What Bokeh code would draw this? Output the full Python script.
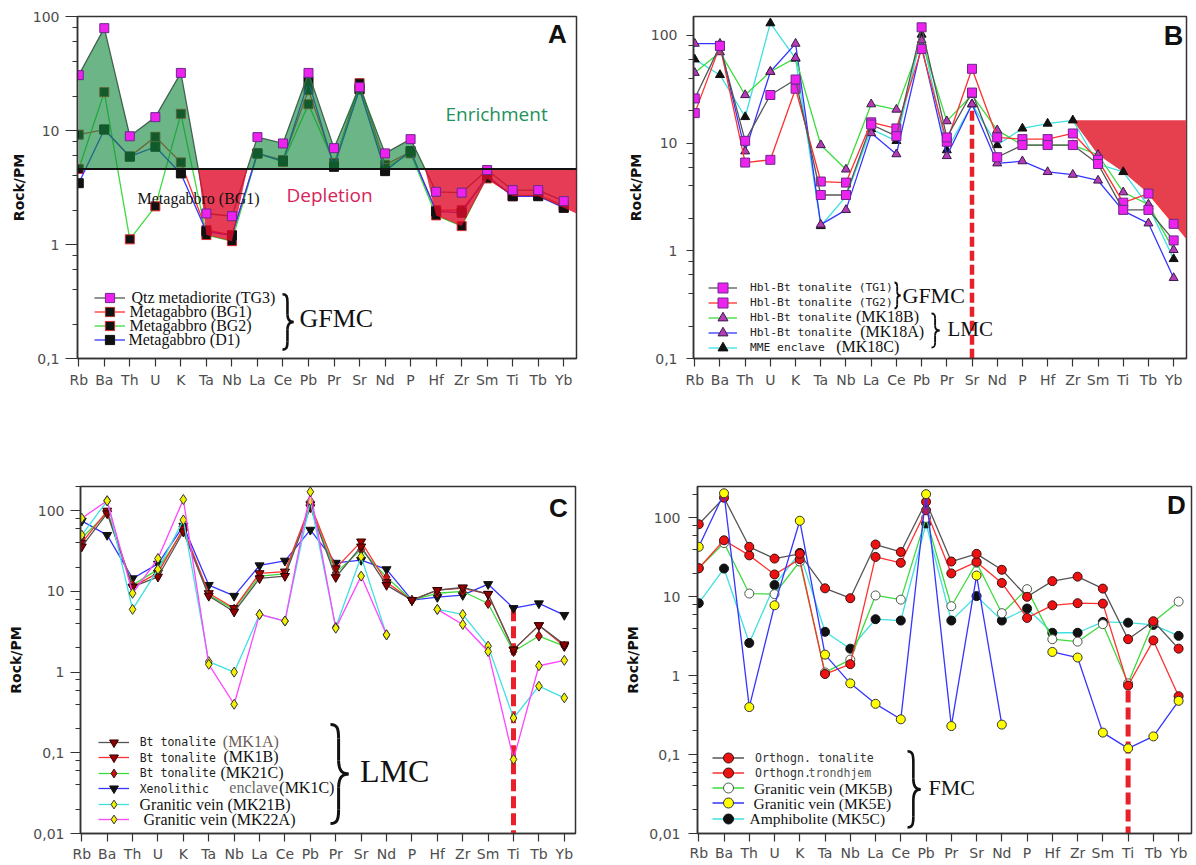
import numpy as np
from bokeh.plotting import figure
from bokeh.models import (Range1d, FixedTicker, CustomJSTickFormatter, Label,
                          Legend, LegendItem, Span)
from bokeh.layouts import column, row
from bokeh.embed import file_html
from bokeh.resources import INLINE

ELEMENTS = ["Rb", "Ba", "Th", "U", "K", "Ta", "Nb", "La", "Ce", "Pb",
            "Pr", "Sr", "Nd", "P", "Hf", "Zr", "Sm", "Ti", "Tb", "Yb"]
NA = float("nan")

# ---------------- Panel A ----------------
A_TG3 = [30.6, 79, 8.9, 13.1, 32, 1.87, 1.77, 8.75, 7.7, 32, 7.0, 24, 6.3, 8.4, 2.9, 2.85, 4.5, 3.0, 3.0, 2.4]
A_BG1 = [9.2, 10.2, 5.9, 8.8, 5.25, 1.34, 1.21, 6.3, 5.5, 22.6, 5.0, 26, 5.0, 6.5, 2.0, 2.0, 3.8, 2.7, 2.7, 2.2]
A_BG2 = [4.6, 21.7, 1.11, 2.16, 14, 1.21, 1.07, 6.3, 5.3, 17, 5.2, 23, 4.7, 6.3, 1.8, 1.45, 4.0, 2.65, 2.7, 2.1]
A_D1 = [3.45, 10.2, 5.9, 7.2, 4.2, 1.3, 1.2, 6.3, 5.4, 27, 4.8, 23, 4.4, 6.6, 1.95, 1.9, 4.0, 2.65, 2.65, 2.1]
A_LEVEL = 4.6

# ---------------- Panel B ----------------
B_TG1 = [26, 80, 10.5, 28, 39, 3.3, 3.3, 14.9, 11.6, 119, 11.3, 29.5, 7.4, 9.6, 9.6, 9.6, 6.4, 2.4, 2.4, 1.25]
B_TG2 = [19, 80, 6.6, 7.0, 32, 4.4, 4.3, 15.6, 13.7, 75, 10.3, 49, 11.3, 10.9, 10.9, 12.3, 7.0, 2.8, 3.4, 1.78]
B_MK18B = [45, 70, 28, 46, 62, 9.6, 5.7, 23, 20.5, 90, 16, 28, 13.2, 9.6, 9.6, 9.6, 7.8, 3.5, 2.7, 1.02]
B_MK18A = [84, 84, 8.4, 46, 84, 1.75, 2.4, 12.4, 7.9, 80, 7.6, 23, 6.5, 6.8, 5.4, 5.1, 4.5, 2.35, 1.8, 0.56]
B_MK18C = [60, 43, 17.5, 130, 61, 1.7, 3.2, 13.5, 10.5, 102, 8.6, 23, 9.6, 13.7, 15.2, 16.3, 6.4, 5.4, 2.6, 0.84]
B_FILL_FROM = "Zr"
B_MARK_AT, B_MARK_TOP = "Sr", 20

# ---------------- Panel C ----------------
C_MK1A = [36, 93, 11.4, 15.2, 55, 8.8, 5.6, 14.5, 15.5, 110, 15, 36, 12, 7.8, 10.4, 11.2, 9.3, 1.9, 3.8, 2.2]
C_MK1B = [40, 100, 11.4, 17, 60, 9.5, 6.2, 16.8, 17.6, 120, 19.3, 41.5, 13, 7.8, 10.4, 11, 9.3, 1.9, 3.8, 2.1]
C_MK21C = [46, 93, 12, 18.8, 57, 9, 6, 15.5, 16.5, 115, 17, 33, 15, 7.8, 9.5, 10, 7.1, 1.8, 2.8, 2.1]
C_MK1C = [75, 50, 14.5, 22, 65, 12, 8.8, 21, 24, 58, 22.6, 24.5, 18.8, 7.8, 8.5, 9.0, 12.3, 6.2, 7.1, 5.1]
C_MK21B = [50, 133, 6.0, 18.8, 77, 1.35, 1.0, 5.2, 4.3, 133, 3.6, 27, 2.9, NA, 6.0, 5.2, 2.1, 0.27, 0.67, 0.48]
C_MK22A = [81, 133, 9.5, 25.6, 138, 1.25, 0.4, 5.2, 4.3, 172, 3.5, 15.5, 2.9, NA, 6.0, 3.9, 1.8, 0.083, 1.2, 1.4]
C_MARK_AT, C_MARK_TOP = "Ti", 6.0

# ---------------- Panel D ----------------
D_TON = [83, 180, 43, 30.5, 35, 12.8, 9.6, 46, 37, 160, 28, 35, 22, 10, 15.8, 18, 12.7, 2.9, 4.9, 2.2]
D_TRO = [23, 52, 33.5, 19.2, 30, 1.05, 1.4, 32, 27, 125, 19.8, 27.7, 15, 5.4, 7.8, 8.3, 8.2, 0.75, 2.8, 0.55]
D_MK5B = [23, 48, 11, 10.8, 28, 1.1, 1.6, 10.4, 9.2, 100, 7.6, 27, 6.2, 12.5, 2.9, 2.7, 4.5, 0.8, 4.8, 8.7]
D_MK5E = [43, 205, 0.4, 7.8, 92, 1.85, 0.8, 0.44, 0.28, 200, 0.23, 18.6, 0.24, NA, 2.0, 1.7, 0.19, 0.12, 0.17, 0.48]
D_MK5C = [8.3, 22.8, 2.6, 14.1, 36, 3.6, 2.2, 5.2, 5.0, 85, 5.0, 10.2, 5.0, 7.1, 3.5, 3.5, 4.8, 4.7, 4.4, 3.2]
D_MARK_AT, D_MARK_TOP = "Ti", 0.65

SERIF = "Liberation Serif"
MONO = "DejaVu Sans Mono"
SANS = "DejaVu Sans"
XI = np.arange(len(ELEMENTS))
N = len(ELEMENTS)

GRAY, RED, GREEN, BLUE, CYAN, MAGENTA = "#555555", "#ff3030", "#3ddc3d", "#3535ff", "#3ee0e0", "#ff45ff"

# panel geometry in page pixels (frame edges), figure sizes and ranges
GEO = {
    "A": dict(ox=0, oy=0, width=600, height=400, left=77, right=576, top=16, bottom=362,
              xr=(-0.05, 19.5), yr=(0.1, 100), exps=(-1, 2), tick=12, lstd=6, tstd=3, xstd=5),
    "B": dict(ox=600, oy=0, width=596, height=400, left=693, right=1186, top=16, bottom=358,
              xr=(-0.05, 19.51), yr=(0.1, 150), exps=(-1, 2), tick=7, lstd=9, tstd=4, xstd=5),
    "C": dict(ox=0, oy=400, width=600, height=464, left=80, right=575, top=486, bottom=833,
              xr=(-0.05, 19.44), yr=(0.01, 200), exps=(-2, 2), tick=10, lstd=6, tstd=6, xstd=4),
    "D": dict(ox=600, oy=400, width=596, height=464, left=697, right=1191, top=486, bottom=836,
              xr=(-0.05, 19.51), yr=(0.01, 250), exps=(-2, 2), tick=9, lstd=8, tstd=5, xstd=3),
}


def make_panel(g):
    bl = g["left"] - g["ox"]
    br = g["ox"] + g["width"] - g["right"]
    bt = g["top"] - g["oy"]
    bb = g["oy"] + g["height"] - g["bottom"]
    p = figure(width=g["width"], height=g["height"], x_range=Range1d(*g["xr"]),
               y_range=Range1d(*g["yr"]), y_axis_type="log", output_backend="svg",
               toolbar_location=None, min_border_left=bl, min_border_right=br,
               min_border_top=bt, min_border_bottom=bb)
    p.xgrid.grid_line_color = None
    p.ygrid.grid_line_color = None
    p.outline_line_color = "#333333"
    p.outline_line_width = 1.5
    lo, hi = g["exps"]
    major = [10.0 ** e for e in range(lo, hi + 1)]
    minor = [m * 10.0 ** e for e in range(lo, hi + 1) for m in (2, 4, 6, 8)]
    ya = p.yaxis[0]
    ya.ticker = FixedTicker(ticks=major, minor_ticks=minor)
    ya.formatter = CustomJSTickFormatter(code="return String(tick).replace('.', ',');")
    ya.axis_label = "Rock/PM"
    ya.axis_label_text_font = SANS
    ya.axis_label_text_font_style = "bold"
    ya.axis_label_text_font_size = "14px"
    ya.axis_label_text_color = "#111111"
    ya.axis_label_standoff = g["tstd"]
    ya.major_tick_out = g["tick"]
    ya.major_tick_in = 0
    ya.minor_tick_out = 5
    ya.minor_tick_in = 0
    ya.minor_tick_line_color = "#333333"
    ya.major_label_standoff = g["lstd"]
    xa = p.xaxis[0]
    xa.ticker = FixedTicker(ticks=list(range(N)))
    xa.formatter = CustomJSTickFormatter(
        args=dict(names=ELEMENTS),
        code="const i = Math.round(tick); return (i >= 0 && i < names.length) ? names[i] : '';")
    xa.major_tick_out = 8
    xa.major_tick_in = 0
    xa.minor_tick_line_color = None
    xa.major_label_standoff = g["xstd"]
    for ax in (xa, ya):
        ax.axis_line_color = "#333333"
        ax.axis_line_width = 1.5
        ax.major_tick_line_color = "#333333"
        ax.major_tick_line_width = 1.2
        ax.major_label_text_font = SANS
        ax.major_label_text_font_size = "14px"
        ax.major_label_text_color = "#4d4d4d"
    return p


def markers(p, y, marker, fill, edge, size):
    return p.scatter(XI, y, marker=marker, size=size, fill_color=fill,
                     line_color=edge, line_width=1)


def text(p, g, X, Y, s, size, font=SERIF, color="#111111", align="left",
         style="normal", baseline="middle"):
    p.add_layout(Label(x=X - g["left"], y=g["bottom"] - Y,
                       x_units="screen", y_units="screen", text=s,
                       text_font=font, text_font_size=f"{size}px",
                       text_color=color, text_align=align,
                       text_baseline=baseline, text_font_style=style))


def px2data(g, X, Y):
    x0, x1 = g["xr"]
    l0, l1 = np.log10(g["yr"][0]), np.log10(g["yr"][1])
    x = x0 + (X - g["left"]) / (g["right"] - g["left"]) * (x1 - x0)
    ly = l0 + (g["bottom"] - Y) / (g["bottom"] - g["top"]) * (l1 - l0)
    return x, 10 ** ly


def brace(p, g, Xl, Xr, Yt, Yb, lw=2.0):
    """Curly bracket '}' drawn with bezier curves, placed by page pixels."""
    w = Xr - Xl
    x0, x1, x2 = Xl, Xl + 0.45 * w, Xr
    h = Yb - Yt
    c = 0.5 * (Yt + Yb)
    r = min(0.14 * h, 1.3 * w)
    segs = [
        ((x0, Yt), (x0 + 0.8 * (x1 - x0), Yt), (x1, Yt + 0.25 * r), (x1, Yt + r)),
        ((x1, Yt + r), (x1, Yt + r), (x1, c - r), (x1, c - r)),
        ((x1, c - r), (x1, c - 0.3 * r), (x1 + 0.3 * (x2 - x1), c), (x2, c)),
        ((x2, c), (x1 + 0.3 * (x2 - x1), c), (x1, c + 0.3 * r), (x1, c + r)),
        ((x1, c + r), (x1, c + r), (x1, Yb - r), (x1, Yb - r)),
        ((x1, Yb - r), (x1, Yb - 0.25 * r), (x0 + 0.8 * (x1 - x0), Yb), (x0, Yb)),
    ]
    cols = {k: [] for k in ("x0", "y0", "cx0", "cy0", "cx1", "cy1", "x1", "y1")}
    for a, b, cc, d in segs:
        for key, pt in (("0", a), ("c0", b), ("c1", cc), ("1", d)):
            xx, yy = px2data(g, *pt)
            if key == "0":
                cols["x0"].append(xx); cols["y0"].append(yy)
            elif key == "1":
                cols["x1"].append(xx); cols["y1"].append(yy)
            else:
                cols["cx" + key[1]].append(xx); cols["cy" + key[1]].append(yy)
    p.bezier(line_color="#111111", line_width=lw, **cols)


def legend_row(p, g, rends, x_left, y_center, gw, gh):
    gw, gh = int(round(gw)), int(round(gh))
    lg = Legend(items=[LegendItem(label=" ", renderers=list(rends))],
                location=(float(x_left - g["left"]),
                          float(g["bottom"] - y_center - gh / 2)),
                glyph_width=gw, glyph_height=gh, label_width=0, label_height=gh,
                label_standoff=0, label_text_font_size="1px", padding=0, margin=0,
                spacing=0, border_line_alpha=0, background_fill_alpha=0)
    p.add_layout(lg)


# ======================= Panel A =======================
gA = GEO["A"]
pA = make_panel(gA)
A_XMAX = gA["xr"][1]

rA = []
for vals, lc, ec in ((A_BG1, RED, "#b03020"), (A_BG2, GREEN, "#e02828"), (A_D1, BLUE, "#111111")):
    y = np.array(vals, dtype=float)
    l = pA.line(XI, y, line_color=lc, line_width=1.3)
    s = markers(pA, y, "square", "#111111", ec, 9)
    rA.append((l, s))
yTG3 = np.array(A_TG3, dtype=float)
lTG3 = pA.line(XI, yTG3, line_color=GRAY, line_width=1.3)

# enrichment / depletion areas built from the envelopes of the four samples
allA = np.array([A_TG3, A_BG1, A_BG2, A_D1], dtype=float)
lmx = np.log10(np.nanmax(allA, axis=0))
lmn = np.log10(np.nanmin(allA, axis=0))
lL = np.log10(A_LEVEL)
xs, gy, ry = [], [], []
for i in range(N):
    above = lmx[i] > lL
    xs.append(float(i))
    gy.append(max(lmx[i], lL))
    ry.append(lL if above else lmn[i])
    if i < N - 1 and (lmx[i] - lL) * (lmx[i + 1] - lL) < 0:
        t = (lL - lmx[i]) / (lmx[i + 1] - lmx[i])
        xs.append(i + t)
        gy.append(lL)
        ry.append(lL)
if lmx[-1] < lL:
    slope = lmn[-1] - lmn[-2]
    xs.append(A_XMAX)
    gy.append(lL)
    ry.append(lmn[-1] + slope * (A_XMAX - (N - 1)))
xs = np.array(xs)
base = np.full(len(xs), A_LEVEL)
pA.varea(x=xs, y1=base, y2=10 ** np.array(gy), fill_color="#10883d", fill_alpha=0.62)
pA.varea(x=xs, y1=base, y2=10 ** np.array(ry), fill_color="#e00b2a", fill_alpha=0.8)
sTG3 = markers(pA, yTG3, "square", "#ee22ee", "#6a2a8a", 9)
pA.add_layout(Span(location=A_LEVEL, dimension="width", line_color="#111111", line_width=2))

text(pA, gA, 557, 37.5, "A", 26, font="Liberation Sans", align="center", style="bold")
text(pA, gA, 445, 117, "Enrichment", 19, font="Open Sans", color="#23915a")
text(pA, gA, 286, 198, "Depletion", 19, font="Open Sans", color="#d6245a")
text(pA, gA, 137, 202, "Metagabbro (BG1)", 16)
A_ROWS = [301, 315, 329, 343]
A_LAB = ["Qtz metadiorite (TG3)", "Metagabbro (BG1)", "Metagabbro (BG2)", "Metagabbro (D1)"]
A_LX = [131, 129, 129, 128]
A_R = [(lTG3, sTG3)] + rA
for k in range(4):
    legend_row(pA, gA, A_R[k], 94, A_ROWS[k], 31, 23)
    text(pA, gA, A_LX[k], A_ROWS[k], A_LAB[k], 16)
brace(pA, gA, 282, 293, 297, 353, 2.6)
text(pA, gA, 299, 322, "GFMC", 26)

# ======================= Panel B =======================
gB = GEO["B"]
pB = make_panel(gB)
B_XMAX = gB["xr"][1]

allB = np.array([B_TG1, B_TG2, B_MK18B, B_MK18A, B_MK18C], dtype=float)
mxB = np.log10(np.nanmax(allB, axis=0))
i0 = ELEMENTS.index(B_FILL_FROM)
slopeB = mxB[-1] - mxB[-2]
px = [i0, B_XMAX, B_XMAX] + list(range(N - 1, i0, -1))
py = [mxB[i0], mxB[i0], mxB[-1] + slopeB * (B_XMAX - (N - 1))] + [mxB[j] for j in range(N - 1, i0, -1)]
pB.patch(np.array(px, dtype=float), 10 ** np.array(py), fill_color="#e6404f", line_color=None)
jB = ELEMENTS.index(B_MARK_AT)
pB.segment(x0=[jB], y0=[B_MARK_TOP], x1=[jB], y1=[gB["yr"][0]], line_color="#e8202a",
           line_width=4.5, line_dash="10 4")

rB = {}
for key, vals, lc, mk, fc, ec in (
        ("MK18C", B_MK18C, CYAN, "triangle", "#111111", "#111111"),
        ("MK18A", B_MK18A, BLUE, "triangle", "#b43cb4", "#3a1a4a"),
        ("MK18B", B_MK18B, GREEN, "triangle", "#b43cb4", "#3a1a4a"),
        ("TG2", B_TG2, RED, "square", "#ee22ee", "#6a2a8a"),
        ("TG1", B_TG1, GRAY, "square", "#ee22ee", "#6a2a8a")):
    y = np.array(vals, dtype=float)
    l = pB.line(XI, y, line_color=lc, line_width=1.3)
    s = markers(pB, y, mk, fc, ec, 9)
    rB[key] = (l, s)

text(pB, gB, 1173, 35, "B", 27, font="Liberation Sans", align="center", style="bold")
B_ROWS = [287, 302, 317, 332, 347]
B_KEYS = ["TG1", "TG2", "MK18B", "MK18A", "MK18C"]
B_MONO = ["Hbl-Bt tonalite (TG1)", "Hbl-Bt tonalite (TG2)", "Hbl-Bt tonalite",
          "Hbl-Bt tonalite", "MME enclave"]
B_SER = [None, None, ("(MK18B)", 855.5), ("(MK18A)", 859.7), ("(MK18C)", 835.7)]
for k in range(5):
    legend_row(pB, gB, rB[B_KEYS[k]], 708, B_ROWS[k], 29, 25)
    text(pB, gB, 749.4, B_ROWS[k], B_MONO[k], 11.3, font=MONO, color="#222222")
    if B_SER[k]:
        text(pB, gB, B_SER[k][1], B_ROWS[k] - 1, B_SER[k][0], 16)
brace(pB, gB, 894, 900, 282, 308, 1.8)
text(pB, gB, 902, 295, "GFMC", 22)
brace(pB, gB, 931, 939, 313, 347, 1.9)
text(pB, gB, 947, 328, "LMC", 21)

# ======================= Panel C =======================
gC = GEO["C"]
pC = make_panel(gC)
jC = ELEMENTS.index(C_MARK_AT)
pC.segment(x0=[jC], y0=[C_MARK_TOP], x1=[jC], y1=[gC["yr"][0]], line_color="#e8202a",
           line_width=5, line_dash="12 5")
rC = {}
for key, vals, lc, mk, fc, ec, sz in (
        ("MK1C", C_MK1C, BLUE, "inverted_triangle", "#111111", "#111111", 9),
        ("MK21C", C_MK21C, GREEN, "diamond", "#cc1010", "#401010", 10),
        ("MK1B", C_MK1B, RED, "inverted_triangle", "#a00000", "#300000", 9),
        ("MK1A", C_MK1A, GRAY, "inverted_triangle", "#8b0000", "#300000", 9),
        ("MK21B", C_MK21B, CYAN, "diamond", "#f2f200", "#333333", 10),
        ("MK22A", C_MK22A, MAGENTA, "diamond", "#f2f200", "#333333", 10)):
    y = np.array(vals, dtype=float)
    l = pC.line(XI, y, line_color=lc, line_width=1.3)
    s = markers(pC, y, mk, fc, ec, sz)
    rC[key] = (l, s)

text(pC, gC, 558, 507.5, "C", 26, font="Liberation Sans", align="center", style="bold")
C_ROWS = [741.5, 757, 772.5, 788, 803.5, 819]
C_KEYS = ["MK1A", "MK1B", "MK21C", "MK1C", "MK21B", "MK22A"]
for k in range(6):
    legend_row(pC, gC, rC[C_KEYS[k]], 98, C_ROWS[k], 31, 22)
text(pC, gC, 139.2, C_ROWS[0], "Bt tonalite", 11.5, font=MONO, color="#222222")
text(pC, gC, 222.3, C_ROWS[0] - 1, "(MK1A)", 16, color="#6a5d55")
text(pC, gC, 139.2, C_ROWS[1], "Bt tonalite", 11.5, font=MONO, color="#222222")
text(pC, gC, 223, C_ROWS[1] - 1, "(MK1B)", 16)
text(pC, gC, 139.2, C_ROWS[2], "Bt tonalite", 11.5, font=MONO, color="#222222")
text(pC, gC, 220, C_ROWS[2] - 1, "(MK21C)", 16)
text(pC, gC, 139.2, C_ROWS[3], "Xenolithic", 11.5, font=MONO, color="#222222")
text(pC, gC, 228.8, C_ROWS[3] - 1, "enclave", 16, color="#666666")
text(pC, gC, 278.8, C_ROWS[3] - 1, "(MK1C)", 16)
text(pC, gC, 139, C_ROWS[4], "Granitic vein (MK21B)", 16)
text(pC, gC, 143, C_ROWS[5], "Granitic vein (MK22A)", 16)
brace(pC, gC, 330, 348, 724, 823, 3.0)
text(pC, gC, 359.6, 770, "LMC", 32)

# ======================= Panel D =======================
gD = GEO["D"]
pD = make_panel(gD)
jD = ELEMENTS.index(D_MARK_AT)
pD.segment(x0=[jD], y0=[D_MARK_TOP], x1=[jD], y1=[gD["yr"][0]], line_color="#e8202a",
           line_width=5, line_dash="12 5")
rD = {}
for key, vals, lc, fc, ec in (
        ("MK5C", D_MK5C, CYAN, "#111111", "#111111"),
        ("MK5B", D_MK5B, GREEN, "#ffffff", "#4a5a4a"),
        ("TRO", D_TRO, RED, "#ee1111", "#3a1010"),
        ("TON", D_TON, GRAY, "#ee1111", "#3a1010"),
        ("MK5E", D_MK5E, BLUE, "#ffff00", "#333333")):
    y = np.array(vals, dtype=float)
    l = pD.line(XI, y, line_color=lc, line_width=1.3)
    s = markers(pD, y, "circle", fc, ec, 9)
    rD[key] = (l, s)

text(pD, gD, 1176, 507, "D", 26, font="Liberation Sans", align="center", style="bold")
D_ROWS = [760, 775, 790.5, 805.7, 821]
D_KEYS = ["TON", "TRO", "MK5B", "MK5E", "MK5C"]
for k in range(5):
    legend_row(pD, gD, rD[D_KEYS[k]], 711.5, D_ROWS[k], 31.5, 25)
text(pD, gD, 754.6, D_ROWS[0], "Orthogn. tonalite", 11.6, font=MONO, color="#333333")
text(pD, gD, 754.6, D_ROWS[1], "Orthogn.", 11.6, font=MONO, color="#333333")
text(pD, gD, 808, D_ROWS[1], "trondhjem", 11.6, font=MONO, color="#555555")
text(pD, gD, 753.4, D_ROWS[2], "Granitic vein (MK5B)", 15.5)
text(pD, gD, 753, D_ROWS[3], "Granitic vein (MK5E)", 15.5)
text(pD, gD, 749, D_ROWS[4], "Amphibolite (MK5C)", 15.5)
brace(pD, gD, 907, 920, 753, 830, 2.6)
text(pD, gD, 928, 790, "FMC", 22)

layout = column(row(pA, pB), row(pC, pD))
open("out.html", "w").write(file_html(layout, INLINE))
